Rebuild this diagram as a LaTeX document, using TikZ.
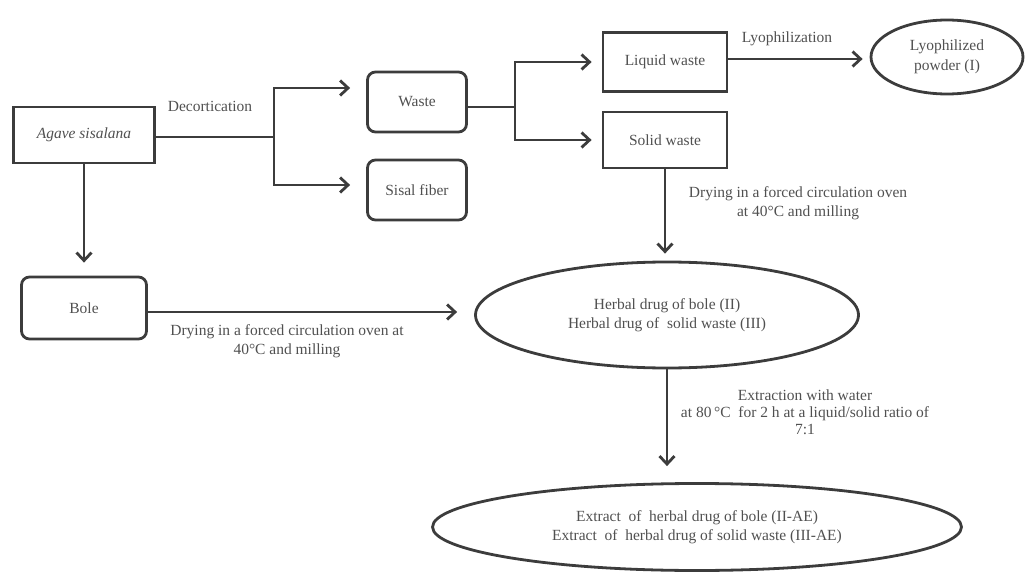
\documentclass[tikz,border=0pt]{standalone}
\usepackage{fontspec}
\setmainfont{Liberation Serif}
\usetikzlibrary{arrows.meta,shapes.geometric,calc}
\definecolor{ln}{HTML}{3C3C3C}
\definecolor{tx}{HTML}{505050}
\begin{document}
\begin{tikzpicture}[x=1pt,y=-1pt,
  every node/.style={text=tx,font=\fontsize{15.5}{19.5}\selectfont},
  sqbox/.style={draw=ln,line width=2.8pt,minimum width=#1,inner sep=0pt},
  rbox/.style={draw=ln,line width=2.8pt,rounded corners=8pt,inner sep=0pt},
  ell/.style={draw=ln,line width=2.8pt,ellipse,inner sep=0pt,align=center},
  conn/.style={draw=ln,line width=2.8pt},
  arr/.style={conn,-{Straight Barb[length=8pt,width=15pt]}},
  lbl/.style={align=center,inner sep=0pt}]
\path[use as bounding box] (0,0) rectangle (1029,575);
% nodes
\node[sqbox=141pt,minimum height=56pt] (agave) at (84,135) {\itshape Agave sisalana};
\node[rbox,minimum width=99pt,minimum height=60pt] (waste) at (417,102) {Waste};
\node[rbox,minimum width=99pt,minimum height=60pt] (sisal) at (417,190) {Sisal fiber};
\node[sqbox=124pt,minimum height=59pt] (liquid) at (665,62) {Liquid waste};
\node[sqbox=124pt,minimum height=56pt] (solid) at (665,140) {Solid waste};
\node[ell,minimum width=152pt,minimum height=74pt] (lyo) at (947,57) {Lyophilized\\powder (I)};
\node[rbox,minimum width=125pt,minimum height=62pt] (bole) at (84,308) {Bole};
\node[ell,minimum width=383pt,minimum height=106pt] (herbal) at (667,315) {Herbal drug of bole (II)\\Herbal drug of~~solid waste (III)};
\node[ell,minimum width=529pt,minimum height=87pt] (extract) at (697,527) {Extract~~of~~herbal drug of bole (II-AE)\\Extract~~of~~herbal drug of solid waste (III-AE)};
% labels
\node[lbl] (ldec) at (210,106) {Decortication};
\node[lbl] (llyo) at (787,39) {Lyophilization};
\node[lbl] (ldry1) at (798,203) {Drying in a forced circulation oven\\at 40\textdegree C and milling};
\node[lbl] (ldry2) at (287,341) {Drying in a forced circulation oven at\\40\textdegree C and milling};
\node[lbl,font=\fontsize{15.5}{17}\selectfont] (lext) at (805,412) {Extraction with water\\at 80\,\textdegree C~~for 2 h at a liquid/solid ratio of\\7:1};
% connectors
\coordinate (b1) at (274,137);
\coordinate (b2) at (515,107);
\draw[conn] (agave.east |- b1) -- (b1);
\draw[arr,shorten >=16pt] (b1) |- ([yshift=14pt]waste.west);
\draw[arr,shorten >=16pt] (b1) |- ([yshift=5pt]sisal.west);
\draw[conn] (waste.east |- b2) -- (b2);
\draw[arr,shorten >=10pt] (b2) |- (liquid.west);
\draw[arr,shorten >=10pt] (b2) |- (solid.west);
\draw[arr,shorten >=7pt] ([yshift=3pt]liquid.east) -- ([yshift=3pt]liquid.east -| lyo.west);
\draw[arr,shorten >=7pt] (solid.south) -- (solid.south |- herbal.north);
\draw[arr,shorten >=13pt] (agave.south) -- (bole.north);
\draw[arr,shorten >=17pt] ([yshift=-4pt]bole.east) -- ([yshift=-4pt]bole.east -| herbal.west);
\draw[arr,shorten >=16pt] (herbal.south) -- (herbal.south |- extract.north);
\end{tikzpicture}
\end{document}
